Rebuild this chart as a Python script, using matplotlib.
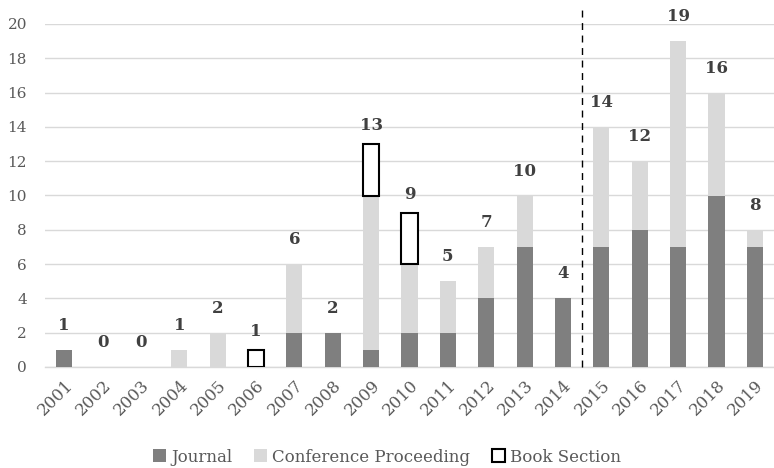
import matplotlib
matplotlib.use("Agg")
import matplotlib.pyplot as plt
from matplotlib.patches import Patch
import numpy as np

years = ["2001", "2002", "2003", "2004", "2005", "2006", "2007", "2008", "2009", "2010",
         "2011", "2012", "2013", "2014", "2015", "2016", "2017", "2018", "2019"]
journal = [1, 0, 0, 0, 0, 0, 2, 2, 1, 2, 2, 4, 7, 4, 7, 8, 7, 10, 7]
conference = [0, 0, 0, 1, 2, 0, 4, 0, 9, 4, 3, 3, 3, 0, 7, 4, 12, 6, 1]
book = [0, 0, 0, 0, 0, 1, 0, 0, 3, 3, 0, 0, 0, 0, 0, 0, 0, 0, 0]

plt.rcParams['font.family'] = ['DejaVu Serif']

fig = plt.figure(figsize=(7.74, 4.68), dpi=100)
ax = fig.add_axes([45/774, 101/468, 729/774, 343/468])

x = np.arange(len(years))
j = np.array(journal)
c = np.array(conference)
b = np.array(book)
w = 0.42

ax.bar(x, j, w, color="#7f7f7f", zorder=3, label="Journal")
ax.bar(x, c, w, bottom=j, color="#d9d9d9", zorder=3, label="Conference Proceeding")
mask = b > 0
ax.bar(x[mask], b[mask], w, bottom=(j + c)[mask], facecolor="white", edgecolor="black",
       linewidth=1.5, zorder=3, label="Book Section")

totals = j + c + b
for xi, t, bk in zip(x, totals, b):
    off = 14 if bk > 0 else 20
    ax.annotate(str(t), (xi, t), xytext=(0, off), textcoords="offset pixels",
                ha="center", va="baseline", fontsize=12, fontweight="bold",
                color="#404040", zorder=4, annotation_clip=False)

ax.plot([13.5, 13.5], [0, 20.8], linestyle=(0, (5, 4)), color="black", linewidth=1,
        clip_on=False, zorder=4)

ax.set_xlim(-0.5, 18.5)
ax.set_ylim(0, 20)
ax.set_yticks(range(0, 21, 2))
ax.set_xticks(x)
ax.set_xticklabels(years, rotation=45, ha="right", rotation_mode="anchor")
ax.tick_params(axis="both", length=0, labelcolor="#595959")
ax.tick_params(axis="x", pad=7, labelsize=12)
ax.tick_params(axis="y", pad=13, labelsize=11)
ax.grid(axis="y", color="#d9d9d9", linewidth=1, zorder=0)
for s in ["top", "right", "left"]:
    ax.spines[s].set_visible(False)
ax.spines["bottom"].set_color("#d9d9d9")
ax.spines["bottom"].set_linewidth(1)

handles = [Patch(facecolor="#7f7f7f"), Patch(facecolor="#d9d9d9"),
           Patch(facecolor="white", edgecolor="black", linewidth=1.5)]
fig.legend(handles, ["Journal", "Conference Proceeding", "Book Section"],
           loc="center", bbox_to_anchor=(0.5, 1 - 457/468), ncol=3, frameon=False,
           fontsize=12, handlelength=0.8, handleheight=0.8, handletextpad=0.3,
           columnspacing=1.3, labelcolor="#595959")

fig.savefig("out.png", dpi=100)
